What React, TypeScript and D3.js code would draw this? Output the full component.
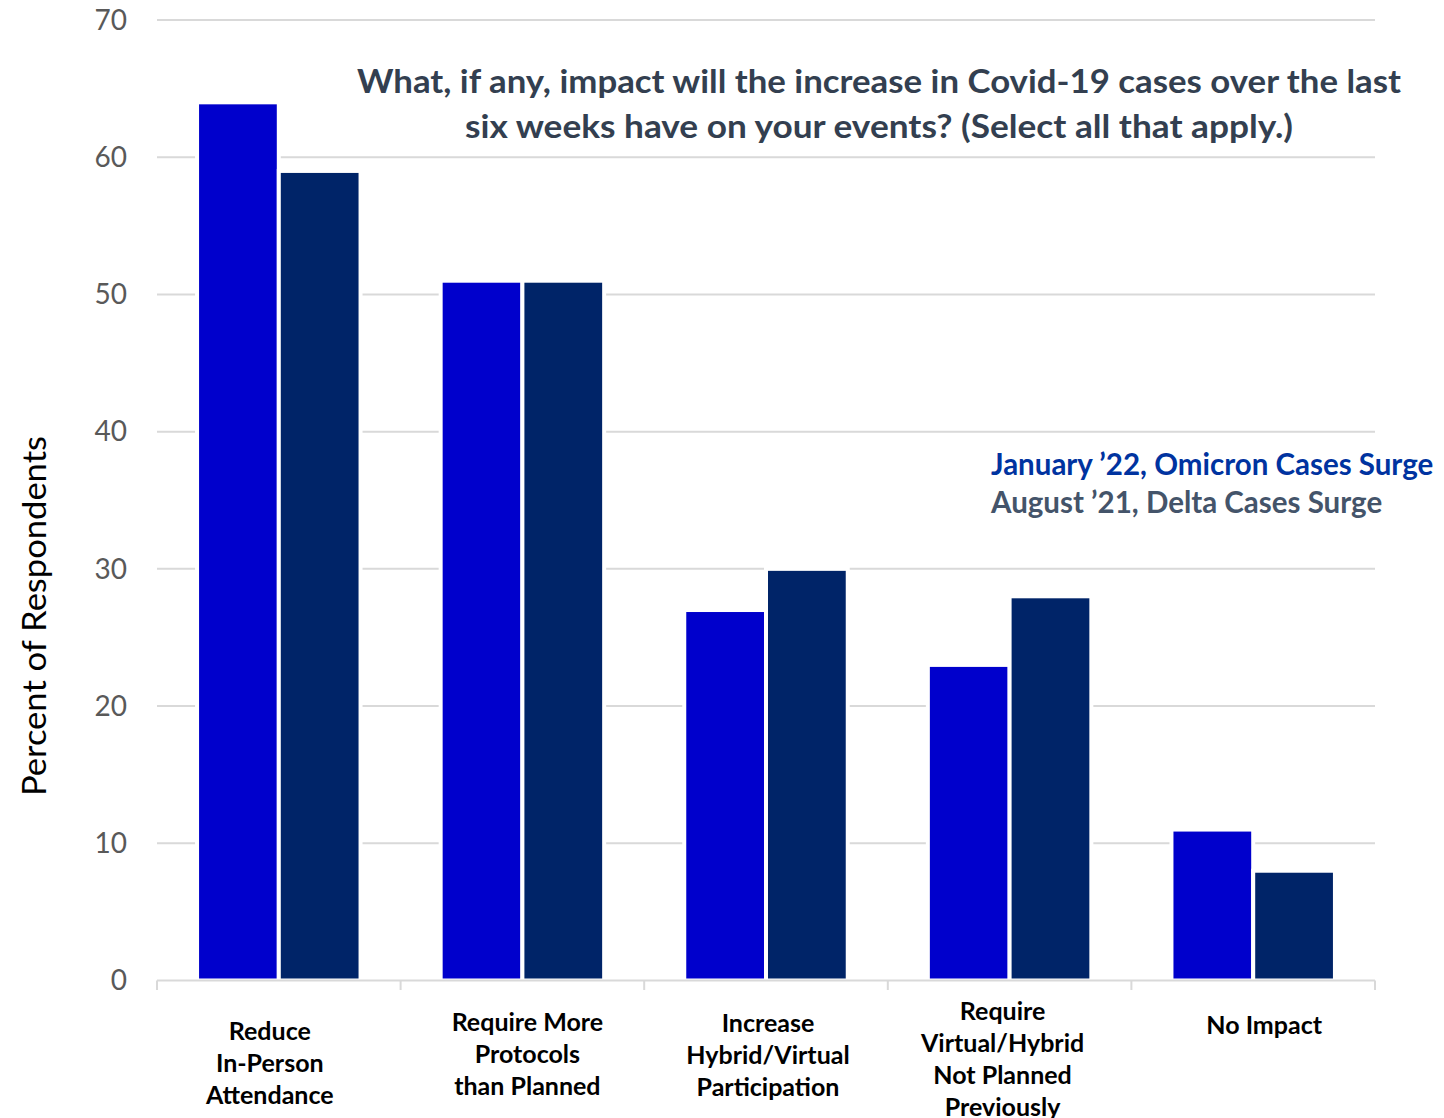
import React from "react";
import * as d3 from "d3";

const categories: string[][] = [
  ["Reduce", "In-Person", "Attendance"],
  ["Require More", "Protocols", "than Planned"],
  ["Increase", "Hybrid/Virtual", "Participation"],
  ["Require", "Virtual/Hybrid", "Not Planned", "Previously"],
  ["No Impact"],
];
const january22: number[] = [64, 51, 27, 23, 11];
const august21: number[] = [59, 51, 30, 28, 8];
const seriesNames = ["January \u201922, Omicron Cases Surge", "August \u201921, Delta Cases Surge"];
const yTicks: number[] = [0, 10, 20, 30, 40, 50, 60, 70];
const titleLines = [
  "What, if any, impact will the increase in Covid-19 cases over the last",
  "six weeks have on your events? (Select all that apply.)",
];
const yAxisTitle = "Percent of Respondents";

// label placement tweaks (style)
const labelDx = [-9, 5, 2, -7, 11];
const labelTop = [1040, 1031, 1032, 1020, 1034];

const W = 1444;
const H = 1118;
const FONT = "Lato, 'Open Sans', sans-serif";

export default function App() {
  const left = 157, right = 1375, top = 20, bottom = 980.5;
  const x0 = d3.scaleBand<number>().domain(d3.range(categories.length)).range([left, right]).paddingInner(0).paddingOuter(0);
  const x1 = d3.scaleBand<number>().domain([0, 1]).range([0, x0.bandwidth()]).paddingInner(0).paddingOuter(0.49);
  const y = d3.scaleLinear().domain([0, 70]).range([bottom, top]);
  const series = [january22, august21];
  const colors = ["#0000CC", "#002468"];
  const bounds = d3.range(categories.length + 1).map((i) => left + i * x0.bandwidth());

  return (
    <svg width={W} height={H} style={{ display: "block", position: "absolute", left: 0, top: 0, background: "#fff" }}>
      {/* gridlines */}
      {yTicks.filter((t) => t > 0).map((t) => (
        <line key={t} x1={left} x2={right} y1={y(t)} y2={y(t)} stroke="#D9D9D9" strokeWidth={2} />
      ))}
      {/* y tick labels */}
      {yTicks.map((t) => (
        <text key={t} x={127} y={y(t)} dy="0.35em" textAnchor="end" fontFamily={FONT} fontSize={28} fill="#595959">
          {t}
        </text>
      ))}
      {/* bars */}
      {categories.map((_, i) =>
        series.map((s, j) => (
          <rect
            key={`${i}-${j}`}
            x={(x0(i) as number) + (x1(j) as number)}
            y={y(s[i])}
            width={x1.bandwidth()}
            height={y(0) - y(s[i])}
            fill={colors[j]}
            stroke="#fff"
            strokeWidth={4}
          />
        ))
      )}
      {/* x axis */}
      <line x1={left} x2={right} y1={bottom} y2={bottom} stroke="#D9D9D9" strokeWidth={2} />
      {bounds.map((b, i) => (
        <line key={i} x1={b} x2={b} y1={bottom} y2={990} stroke="#D9D9D9" strokeWidth={2} />
      ))}
      {/* x labels */}
      {categories.map((lines, i) => (
        <text key={i} textAnchor="middle" fontFamily={FONT} fontWeight="bold" fontSize={25} fill="#000">
          {lines.map((ln, k) => (
            <tspan key={k} x={(x0(i) as number) + x0.bandwidth() / 2 + labelDx[i]} y={labelTop[i] + k * 32}>
              {ln}
            </tspan>
          ))}
        </text>
      ))}
      {/* y axis title */}
      <text
        transform={`translate(46, 616) rotate(-90)`}
        textAnchor="middle"
        fontFamily={FONT}
        fontSize={32}
        textLength={360}
        lengthAdjust="spacingAndGlyphs"
        fill="#000"
      >
        {yAxisTitle}
      </text>
      {/* title */}
      <rect x={355} y={60} width={1050} height={90} fill="#fff" />
      {titleLines.map((ln, k) => (
        <text
          key={k}
          x={879}
          y={93 + k * 45}
          textAnchor="middle"
          fontFamily={FONT}
          fontWeight="bold"
          fontSize={32}
          textLength={k === 0 ? 1044 : 828}
          lengthAdjust="spacingAndGlyphs"
          fill="#333F50"
        >
          {ln}
        </text>
      ))}
      {/* legend */}
      <text x={991} y={475} fontFamily={FONT} fontWeight="bold" fontSize={29.5} fill="#0033A0">
        {seriesNames[0]}
      </text>
      <text x={991} y={513} fontFamily={FONT} fontWeight="bold" fontSize={29.5} fill="#44546A">
        {seriesNames[1]}
      </text>
    </svg>
  );
}
